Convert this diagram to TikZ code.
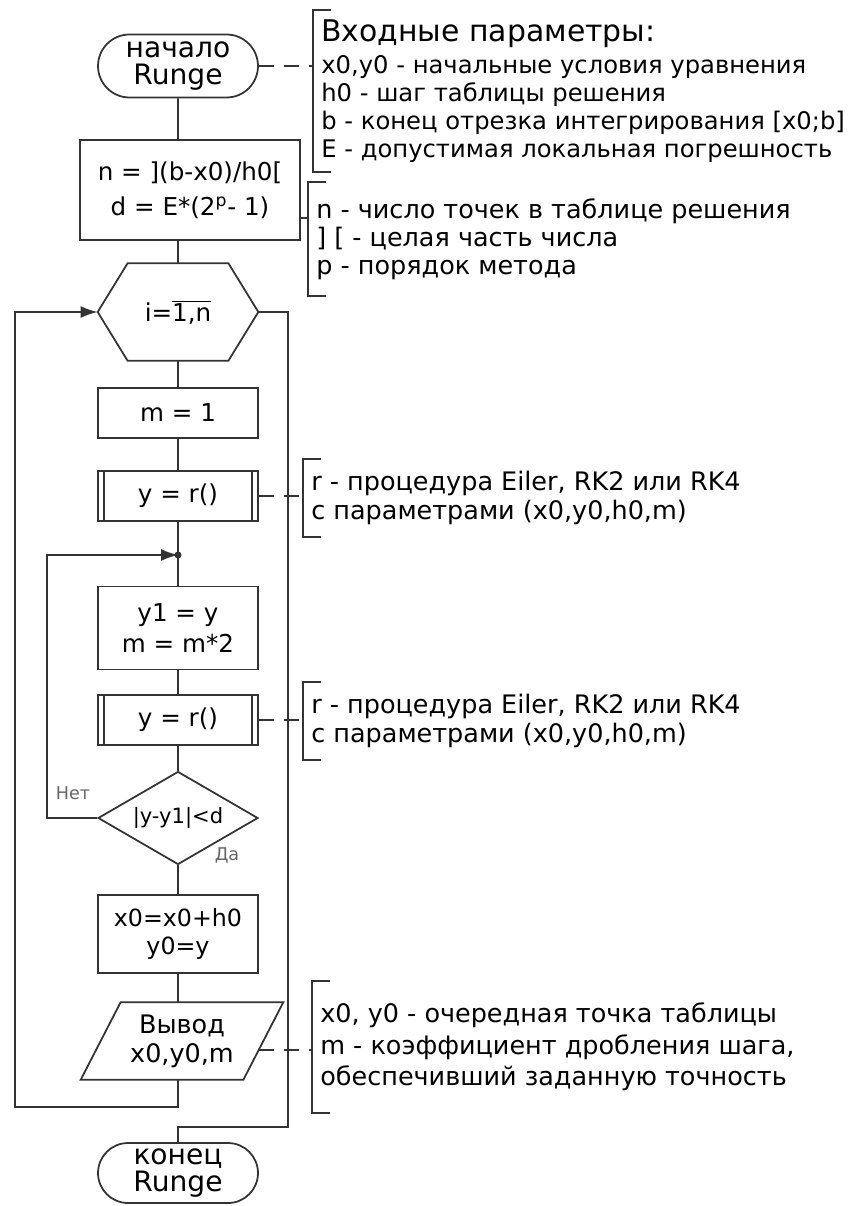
\documentclass[tikz,border=0pt]{standalone}
\usepackage{fontspec}
\setmainfont{DejaVu Sans}
\usetikzlibrary{shapes.geometric,shapes.misc,arrows.meta}

\tikzset{
	line/.style={draw=black!80, line width=1pt},
	tip/.style={-{Latex[length=0.34cm,width=0.24cm]}},
	term/.style={line, rounded rectangle, minimum width=3.2cm, minimum height=1.26cm, inner sep=0pt, align=center, font=\fontsize{16}{15.5}\selectfont},
	proc/.style={line, rectangle, minimum width=3.2cm, minimum height=1cm, inner sep=0pt, align=center, font=\fontsize{14}{18}\selectfont},
	cond/.style={line, diamond, aspect=1.72, minimum width=3.2cm, minimum height=1.86cm, inner sep=0pt, font=\fontsize{12}{14}\selectfont},
	shell/.style={minimum width=3.2cm, inner sep=0pt, align=center, font=\fontsize{14}{17}\selectfont},
	note/.style={anchor=west, align=left, inner xsep=0.16cm, inner ysep=0pt, font=\fontsize{14.5}{16}\selectfont},
	noteline/.style={line, dash pattern=on 0.3cm off 0.2cm},
	tag/.style={text=black!60, font=\fontsize{10}{12}\selectfont}
}

\begin{document}
\begin{tikzpicture}[x=0.02cm, y=-0.02cm]
	\useasboundingbox (0,0) rectangle (858,1206);

	% main chain
	\node[term] (start) at (178,66) {начало\\Runge};
	\node[proc, minimum width=4.4cm, minimum height=2cm, font=\fontsize{14}{20}\selectfont] (calc) at (190,190) {n = ](b-x0)/h0[\\d = E*(2\textsuperscript{p}- 1)};
	\node[shell, minimum height=1.94cm] (loop) at (178,312) {i=$\overline{\mbox{1,n}}$};
	\node[proc] (m1) at (178,413) {m = 1};
	\node[proc] (call1) at (178,496) {y = r()};
	\coordinate (join) at (178,555);
	\node[proc, minimum height=1.66cm] (upd) at (178,628) {y1 = y\\m = m*2};
	\node[proc] (call2) at (178,720) {y = r()};
	\node[cond] (test) at (178,818) {|y-y1|<d};
	\node[proc, minimum height=1.56cm, font=\fontsize{13.5}{16}\selectfont] (next) at (178,934) {x0=x0+h0\\y0=y};
	\node[shell, minimum width=3.24cm, minimum height=1.54cm, font=\fontsize{14.5}{16.5}\selectfont] (out) at (182,1041) {Вывод\\x0,y0,m};
	\node[term, minimum height=1.2cm] (stop) at (178,1173) {конец\\Runge};

	% hexagon and parallelogram outlines
	\draw[line] (loop.west) -- ([xshift=0.6cm]loop.north west) -- ([xshift=-0.6cm]loop.north east)
		-- (loop.east) -- ([xshift=-0.6cm]loop.south east) -- ([xshift=0.6cm]loop.south west) -- cycle;
	\draw[line] ([xshift=0.4cm]out.north west) -- ([xshift=0.4cm]out.north east)
		-- ([xshift=-0.4cm]out.south east) -- ([xshift=-0.4cm]out.south west) -- cycle;
	\foreach \p in {call1,call2} {
		\draw[line] ([xshift=0.14cm]\p.north west) -- ([xshift=0.14cm]\p.south west);
		\draw[line] ([xshift=-0.14cm]\p.north east) -- ([xshift=-0.14cm]\p.south east);
	}

	% connectors
	\draw[line] (start) -- (start |- calc.north);
	\draw[line] (calc.south -| loop) -- (loop.north);
	\draw[line] (loop.south) -- (m1);
	\draw[line] (m1) -- (call1);
	\draw[line] (call1) -- (upd);
	\draw[line] (upd) -- (call2);
	\draw[line] (call2) -- (test);
	\draw[line] (test) -- (next);
	\draw[line] (next) -- (next |- out.north);

	\coordinate (back) at (178,1107);
	\coordinate (lft) at (15,1107);
	\draw[line, tip] (next |- out.south) -- (back) -- (lft) |- (loop.west);

	\coordinate (rgt) at (288,1127);
	\draw[line] (loop.east) -| (rgt) -| (stop.north);

	\coordinate (nleft) at (47,818);
	\draw[line, tip] (test.west) -- (nleft) |- (join);
	\fill[black!80] (join) circle (0.07cm);
	\node[tag] (no) at (73,793) {Нет};
	\node[tag] (yes) at (227,855) {Да};

	% comments
	\node[note, minimum height=3.24cm, font=\fontsize{13.8}{16}\selectfont] (note1) at (313,91) {{\fontsize{17}{20}\selectfont Входные параметры:}\\[2pt]
		x0,y0 - начальные условия уравнения\\
		h0 - шаг таблицы решения\\
		b - конец отрезка интегрирования [x0;b]\\
		E - допустимая локальная погрешность};
	\node[note, minimum height=2.26cm] (note2) at (308,239) {n - число точек в таблице решения\\
		] [ - целая часть числа\\
		p - порядок метода};
	\node[note, minimum height=1.54cm] (note3) at (303,498) {r - процедура  Eiler, RK2 или RK4\\
		с параметрами (x0,y0,h0,m)};
	\node[note, minimum height=1.54cm] (note4) at (303,721) {r - процедура  Eiler, RK2 или RK4\\
		с параметрами (x0,y0,h0,m)};
	\node[note, minimum height=2.62cm] (note5) at (312,1047) {x0, y0 - очередная точка таблицы\\[2pt]
		m - коэффициент дробления шага,\\[2pt]
		обеспечивший заданную точность};
	\foreach \n in {note1,note2,note3,note4,note5}
		\draw[line] ([xshift=0.35cm]\n.north west) -- (\n.north west) -- (\n.south west) -- ([xshift=0.35cm]\n.south west);

	\draw[noteline] (start.east) -- (start.east -| note1.west);
	\draw[line] ([yshift=-0.56cm]calc.east) -- ([yshift=-0.56cm]calc.east -| note2.west);
	\draw[noteline] (call1.east) -- (call1.east -| note3.west);
	\draw[noteline] (call2.east) -- (call2.east -| note4.west);
	\coordinate (outside) at (259,1050);
	\draw[noteline] (outside) -- (outside -| note5.west);
\end{tikzpicture}
\end{document}
